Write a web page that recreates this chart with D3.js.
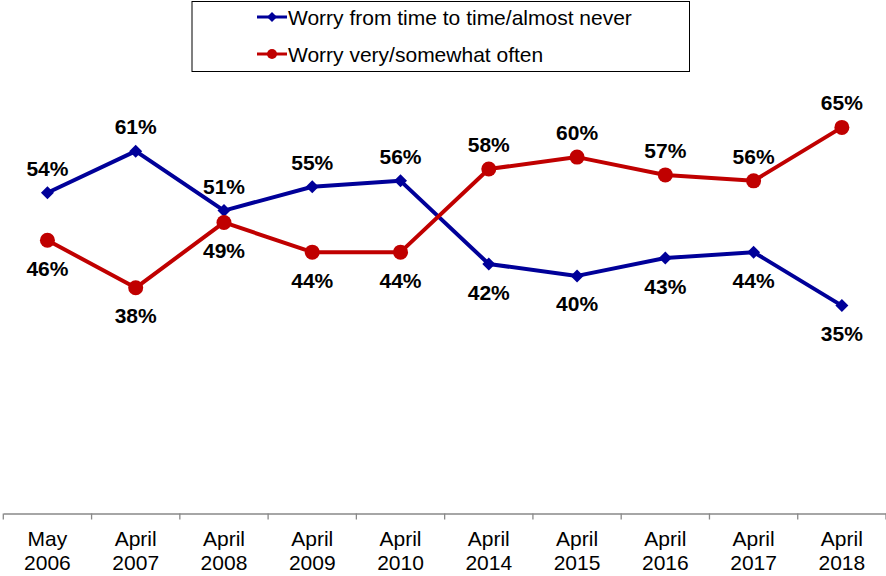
<!DOCTYPE html>
<html>
<head>
<meta charset="utf-8">
<script src="https://cdn.jsdelivr.net/npm/d3@7"></script>
<style>
  body { margin: 0; background: #fff; }
  svg { display: block; font-family: "Liberation Sans", Arial, sans-serif; }
</style>
</head>
<body>
<script>
const width = 886, height = 576;

const months = ["May", "April", "April", "April", "April", "April", "April", "April", "April", "April"];
const years = ["2006", "2007", "2008", "2009", "2010", "2014", "2015", "2016", "2017", "2018"];
const rarely = [54, 61, 51, 55, 56, 42, 40, 43, 44, 35];
const often = [46, 38, 49, 44, 44, 58, 60, 57, 56, 65];
const seriesNames = ["Worry from time to time/almost never", "Worry very/somewhat often"];

const blue = "#000099", red = "#c00000";

const svg = d3.select("body").append("svg")
    .attr("width", width).attr("height", height);

const x = d3.scaleBand().domain(years).range([3.3, 886]);
const y = d3.scaleLinear().domain([0, 80]).range([513.5, 38.3]);

// axis
const axis = svg.append("g").attr("transform", "translate(0,513.5)");
axis.call(d3.axisBottom(x).tickSize(0).tickFormat(""));
axis.select(".domain").attr("stroke", "#898989").attr("stroke-width", 1.3);
axis.selectAll(".tick").remove();
axis.selectAll("line.sep")
    .data(years.concat(["end"]))
    .enter().append("line")
    .attr("class", "sep")
    .attr("x1", (d, i) => i < years.length ? x(d) : x.range()[1])
    .attr("x2", (d, i) => i < years.length ? x(d) : x.range()[1])
    .attr("y1", 0).attr("y2", 6)
    .attr("stroke", "#898989").attr("stroke-width", 1.3);

const lbl = svg.append("g").attr("font-size", 21).attr("fill", "#000").attr("text-anchor", "middle");
years.forEach((yr, i) => {
  const cx = x(yr) + x.bandwidth() / 2;
  lbl.append("text").attr("x", cx).attr("y", 546).text(months[i]);
  lbl.append("text").attr("x", cx).attr("y", 570).text(yr);
});

const line = d3.line()
    .x((d, i) => x(years[i]) + x.bandwidth() / 2)
    .y(d => y(d));

const series = [
  {name: seriesNames[0], values: rarely, color: blue, shape: "diamond", other: often},
  {name: seriesNames[1], values: often, color: red, shape: "circle", other: rarely}
];

series.forEach(s => {
  svg.append("path")
      .datum(s.values)
      .attr("d", line)
      .attr("fill", "none")
      .attr("stroke", s.color)
      .attr("stroke-width", 4)
      .attr("stroke-linejoin", "round");
});

function marker(g, shape, color, cx, cy, size) {
  if (shape === "diamond") {
    g.append("path")
        .attr("d", `M${cx},${cy - size}L${cx + size},${cy}L${cx},${cy + size}L${cx - size},${cy}Z`)
        .attr("fill", color);
  } else {
    g.append("circle").attr("cx", cx).attr("cy", cy).attr("r", size).attr("fill", color);
  }
}

series.forEach(s => {
  const g = svg.append("g");
  s.values.forEach((v, i) => {
    const cx = x(years[i]) + x.bandwidth() / 2;
    marker(g, s.shape, s.color, cx, y(v), s.shape === "diamond" ? 6.5 : 7.5);
  });
});

// value labels: higher series above, lower below
series.forEach(s => {
  svg.append("g").attr("font-size", 21).attr("font-weight", "bold").attr("text-anchor", "middle")
    .selectAll("text").data(s.values).enter().append("text")
    .attr("x", (d, i) => x(years[i]) + x.bandwidth() / 2)
    .attr("y", (d, i) => d >= s.other[i] ? y(d) - 17 : y(d) + 35.5)
    .text(d => d + "%");
});

// legend
const lg = svg.append("g");
lg.append("rect").attr("x", 192).attr("y", 1.5).attr("width", 497.5).attr("height", 70)
    .attr("fill", "#fff").attr("stroke", "#000").attr("stroke-width", 1);
series.forEach((s, i) => {
  const ly = 17 + i * 37;
  lg.append("line").attr("x1", 257).attr("x2", 287).attr("y1", ly).attr("y2", ly)
      .attr("stroke", s.color).attr("stroke-width", 3);
  marker(lg, s.shape, s.color, 272, ly, s.shape === "diamond" ? 5 : 5);
  lg.append("text").attr("x", 288).attr("y", ly + 7.5).attr("font-size", 21).text(s.name);
});
</script>
</body>
</html>
